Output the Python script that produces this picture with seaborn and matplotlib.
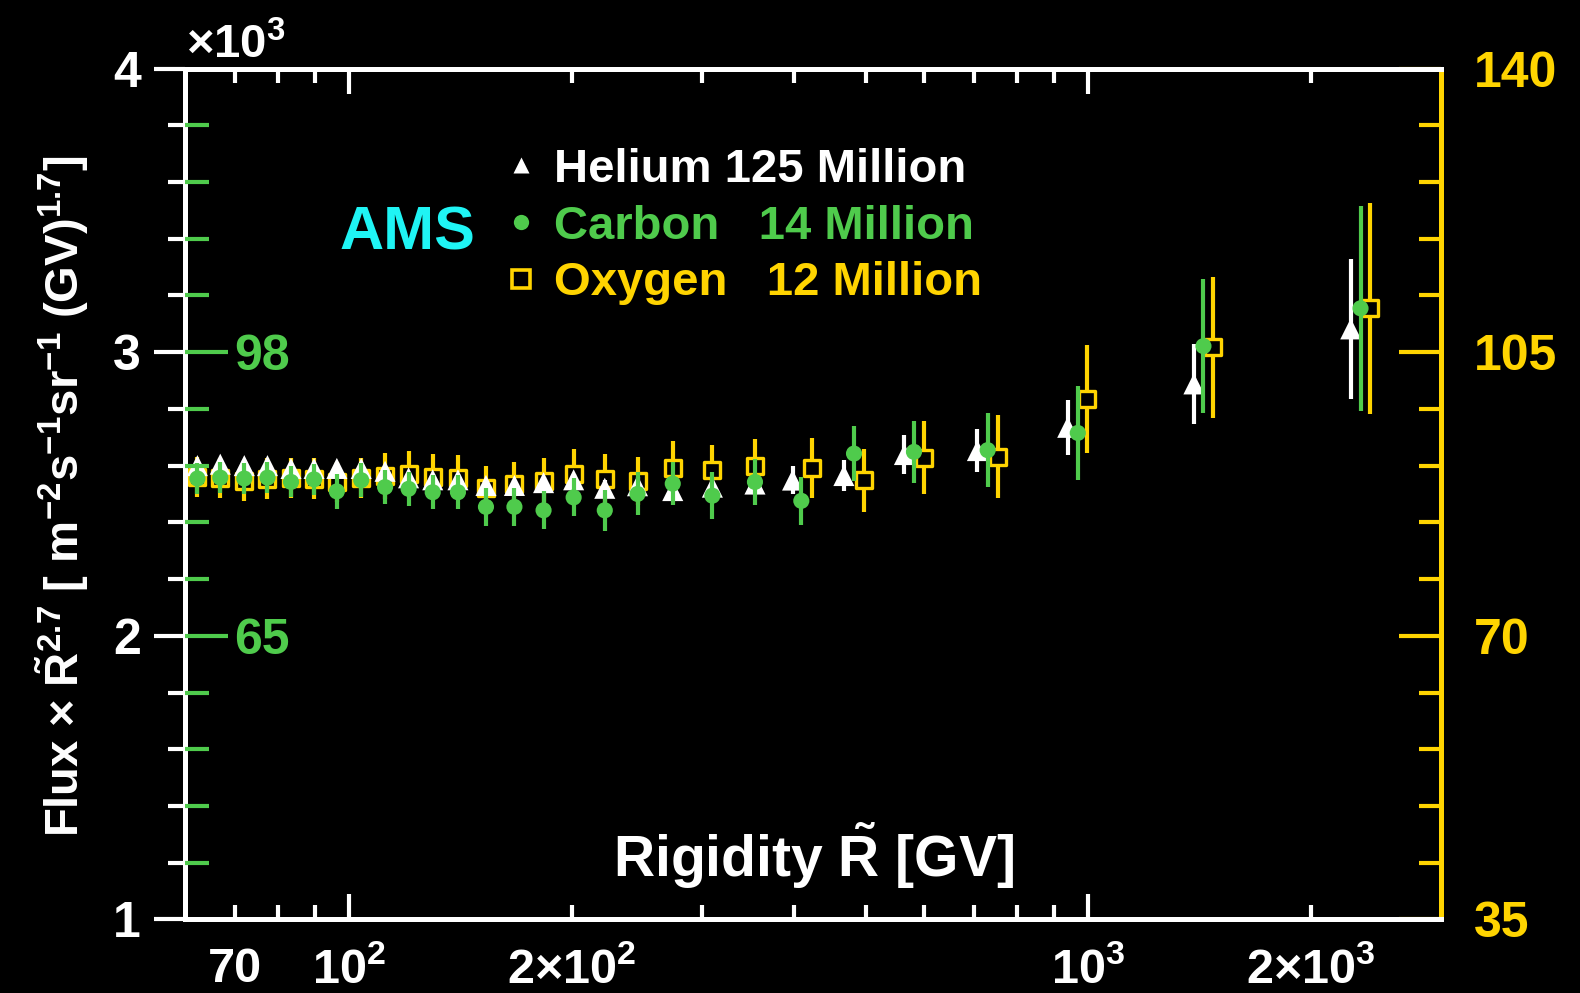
import matplotlib
matplotlib.use("Agg")
import matplotlib.pyplot as plt
from matplotlib.ticker import FixedLocator, FixedFormatter, MultipleLocator, NullFormatter
from matplotlib.lines import Line2D
import pandas as pd
import seaborn as sns

# ---------------------------------------------------------------- data
# Rigidity bins shared by all three nuclei [GV]
rig_common = [62.3, 66.9, 72.1, 77.5, 83.4, 89.6, 96.2, 103.8, 111.8, 120.3,
              129.7, 140.3, 153.1, 167.3, 183.2, 201.2, 221.7, 245.5, 274,
              310, 354]
# High-rigidity bins, each species slightly displaced for readability
rig_he_high = [398, 467, 564, 708, 938, 1390, 2266]
rig_c_high = [409, 482, 581, 731, 968, 1432, 2336]
rig_o_high = [423, 497, 600, 754, 997, 1476, 2405]

# Helium: Flux x R^2.7 in units of 10^3 (left axis)
helium_flux = [2.60, 2.605, 2.60, 2.60, 2.59, 2.59, 2.59, 2.59, 2.58, 2.557,
               2.55, 2.55, 2.53, 2.53, 2.54, 2.55, 2.52, 2.529, 2.512, 2.524,
               2.535,
               2.549, 2.565, 2.639, 2.653, 2.735, 2.888, 3.082]
helium_err = [0.02] * 16 + [0.03, 0.03, 0.035, 0.035, 0.04,
                            0.05, 0.056, 0.068, 0.076, 0.098, 0.141, 0.247]

# Carbon: Flux x R^2.7 (green inner scale)
carbon_flux = [83.3, 83.4, 83.3, 83.4, 82.9, 83.2, 81.8, 83.1, 82.3, 82.1,
               81.7, 81.7, 80.0, 80.0, 79.6, 81.1, 79.6, 81.5, 82.7, 81.3,
               82.9,
               80.7, 86.2, 86.4, 86.6, 88.6, 98.7, 103.1]
carbon_err = [1.8] * 6 + [2.0] * 6 + [2.2] * 4 + [2.4, 2.5, 2.5, 2.7, 2.7,
                                                  2.8, 3.2, 3.6, 4.3, 5.5, 7.8, 11.9]

# Oxygen: Flux x R^2.7 (right axis)
oxygen_flux = [89.6, 89.5, 89.1, 89.4, 89.5, 89.4, 89.0, 89.5, 89.7, 90.0,
               89.6, 89.5, 88.2, 88.7, 89.1, 90.0, 89.4, 89.1, 90.7, 90.4,
               91.0,
               90.7, 89.2, 92.0, 92.1, 99.2, 105.6, 110.4]
oxygen_err = [2.5] * 8 + [2.8] * 7 + [3.0, 3.0, 3.0, 3.3, 3.1, 3.3,
                                      3.7, 3.9, 4.5, 5.1, 6.7, 8.7, 13.0]

# Axis scales
left_lim = (1, 4)
carbon_lim = (32, 131)
oxygen_lim = (35, 140)
x_lim = (60, 3000)

x_major = [100, 1000]
x_major_labels = [r"$10^2$", r"$10^3$"]
x_minor = [70, 80, 90, 200, 300, 400, 500, 600, 700, 800, 900, 2000]
x_minor_labels = ["70", "", "", r"$2{\times}10^2$", "", "", "", "", "", "", "",
                  r"$2{\times}10^3$"]
left_ticks = [1, 2, 3, 4]
carbon_labels = [65, 98]
oxygen_ticks = [35, 70, 105, 140]

legend_labels = ["Helium 125 Million", "Carbon   14 Million", "Oxygen   12 Million"]

# ---------------------------------------------------------------- style
WHITE = "#ffffff"
GREEN = "#4fcb4c"
YELLOW = "#ffd400"
CYAN = "#1ff4f4"

sns.set_theme(style="dark", rc={"axes.facecolor": "black",
                                "figure.facecolor": "black",
                                "savefig.facecolor": "black"})
plt.rcParams["font.family"] = ["Liberation Sans", "DejaVu Sans"]
plt.rcParams["font.weight"] = "bold"
plt.rcParams["mathtext.fontset"] = "custom"
plt.rcParams["mathtext.rm"] = "Liberation Sans:bold"
plt.rcParams["mathtext.it"] = "Liberation Sans:bold"
plt.rcParams["mathtext.bf"] = "Liberation Sans:bold"
plt.rcParams["axes.grid"] = False

fig = plt.figure(figsize=(15.8, 9.93), dpi=100)
rect = [0.1173, 0.0741, 0.7946, 0.8569]
ax = fig.add_axes(rect)          # helium, left scale
ax_o = ax.twinx()                # oxygen, right scale
ax_c = ax.twinx()                # carbon, inner green scale

ax_o.set_zorder(1)
ax.set_zorder(2)
ax_c.set_zorder(3)
for a in (ax, ax_o, ax_c):
    a.patch.set_visible(False)
    a.grid(False)

he = pd.DataFrame({"R": rig_common + rig_he_high, "v": helium_flux, "e": helium_err})
cb = pd.DataFrame({"R": rig_common + rig_c_high, "v": carbon_flux, "e": carbon_err})
ox = pd.DataFrame({"R": rig_common + rig_o_high, "v": oxygen_flux, "e": oxygen_err})

# Oxygen: open yellow squares
ax_o.errorbar(ox["R"], ox["v"], yerr=ox["e"], fmt="none", ecolor=YELLOW,
              elinewidth=3, capsize=0, zorder=2)
sns.scatterplot(data=ox, x="R", y="v", ax=ax_o, marker="s", s=140,
                color="black", edgecolor=YELLOW, linewidth=2.4, zorder=3)

# Helium: white triangles
ax.errorbar(he["R"], he["v"], yerr=he["e"], fmt="none", ecolor=WHITE,
            elinewidth=3, capsize=0, zorder=2)
sns.scatterplot(data=he, x="R", y="v", ax=ax, marker="^", s=230,
                color=WHITE, edgecolor="none", zorder=3)

# Carbon: green dots
ax_c.errorbar(cb["R"], cb["v"], yerr=cb["e"], fmt="none", ecolor=GREEN,
              elinewidth=3, capsize=0, zorder=2)
sns.scatterplot(data=cb, x="R", y="v", ax=ax_c, marker="o", s=135,
                color=GREEN, edgecolor="none", zorder=3)

# ---------------------------------------------------------------- axes
for a in (ax, ax_o, ax_c):
    a.set_xscale("log")
    a.set_xlim(*x_lim)
    a.set_xlabel("")
    a.set_ylabel("")
ax.set_ylim(*left_lim)
ax_c.set_ylim(*carbon_lim)
ax_o.set_ylim(*oxygen_lim)

# spines
for s in ("left", "bottom", "top"):
    ax.spines[s].set_color(WHITE)
    ax.spines[s].set_linewidth(3.6)
    ax.spines[s].set_visible(True)
ax.spines["right"].set_visible(False)
for s in ax_c.spines.values():
    s.set_visible(False)
for s in ("left", "bottom", "top"):
    ax_o.spines[s].set_visible(False)
ax_o.spines["right"].set_visible(True)
ax_o.spines["right"].set_color(YELLOW)
ax_o.spines["right"].set_linewidth(3.6)

# x axis: log rigidity
ax.xaxis.set_major_locator(FixedLocator(x_major))
ax.xaxis.set_major_formatter(FixedFormatter(x_major_labels))
ax.xaxis.set_minor_locator(FixedLocator(x_minor))
ax.xaxis.set_minor_formatter(FixedFormatter(x_minor_labels))
ax.tick_params(axis="x", which="both", direction="in", top=True, bottom=True,
               labeltop=False, labelbottom=True, colors=WHITE, width=3,
               labelsize=35, pad=20)
ax.tick_params(axis="x", which="major", length=18)
ax.tick_params(axis="x", which="minor", length=10)
for a in (ax_o, ax_c):
    a.tick_params(axis="x", which="both", bottom=False, top=False,
                  labelbottom=False, labeltop=False)

# left axis: helium, white ticks pointing out
ax.yaxis.set_major_locator(FixedLocator(left_ticks))
ax.yaxis.set_minor_locator(MultipleLocator(0.2))
ax.yaxis.set_minor_formatter(NullFormatter())
ax.tick_params(axis="y", which="both", direction="out", left=True, right=False,
               colors=WHITE, width=3, labelsize=36, pad=10)
ax.tick_params(axis="y", which="major", length=22)
ax.tick_params(axis="y", which="minor", length=12)

# carbon scale: green ticks pointing into the plot from the left spine
ax_c.tick_params(axis="y", which="both", left=False, right=False,
                 labelleft=False, labelright=False)
sec = ax_c.secondary_yaxis(0.0)
sec.set_alignment("right")
for s in sec.spines.values():
    s.set_visible(False)
c_per_unit = (carbon_lim[1] - carbon_lim[0]) / (left_lim[1] - left_lim[0])
c_minor = [carbon_lim[0] + c_per_unit * (k * 0.2) for k in range(1, 15)]
sec.yaxis.set_major_locator(FixedLocator(carbon_labels))
sec.yaxis.set_minor_locator(FixedLocator(c_minor))
sec.yaxis.set_minor_formatter(NullFormatter())
sec.tick_params(axis="y", which="both", direction="out", colors=GREEN,
                width=3, labelsize=36, pad=4)
sec.tick_params(axis="y", which="major", length=31)
sec.tick_params(axis="y", which="minor", length=17)

# right axis: oxygen, yellow ticks pointing in
ax_o.yaxis.set_major_locator(FixedLocator(oxygen_ticks))
ax_o.yaxis.set_minor_locator(MultipleLocator(7))
ax_o.yaxis.set_minor_formatter(NullFormatter())
ax_o.tick_params(axis="y", which="both", direction="in", left=False, right=True,
                 labelleft=False, labelright=True, colors=YELLOW, width=3,
                 labelsize=36, pad=24)
ax_o.tick_params(axis="y", which="major", length=30)
ax_o.tick_params(axis="y", which="minor", length=16)

# ---------------------------------------------------------------- text
fig.text(0.118, 0.941, r"$\times 10^3$", color=WHITE, fontsize=34,
         ha="left", va="baseline")
fig.text(0.0395, 0.5005,
         r"Flux $\times$ $\tilde{\mathrm{R}}^{2.7}$ [ m$^{-2}$s$^{-1}$sr$^{-1}$ (GV)$^{1.7}$]",
         color=WHITE, fontsize=34, rotation=90, ha="center", va="center")
ax_c.text(0.5, 0.075, r"Rigidity $\tilde{\mathrm{R}}$ [GV]", color=WHITE,
          fontsize=41, ha="center", va="center", transform=ax_c.transAxes)
fig.text(0.258, 0.764, "AMS", color=CYAN, fontsize=44, ha="center",
         va="center", fontweight="bold")

handles = [
    Line2D([], [], ls="none", marker="^", markersize=11, color=WHITE, markeredgecolor="none"),
    Line2D([], [], ls="none", marker="o", markersize=11, color=GREEN, markeredgecolor="none"),
    Line2D([], [], ls="none", marker="s", markersize=13, markerfacecolor="none",
           markeredgecolor=YELLOW, markeredgewidth=2.6),
]
leg = fig.legend(handles, legend_labels, loc="upper left",
                 bbox_to_anchor=(0.303, 0.870), frameon=False, fontsize=34,
                 labelcolor=[WHITE, GREEN, YELLOW], handlelength=1.0,
                 handletextpad=0.2, labelspacing=0.27, borderaxespad=0)

fig.savefig("out.png", dpi=100, facecolor="black")
